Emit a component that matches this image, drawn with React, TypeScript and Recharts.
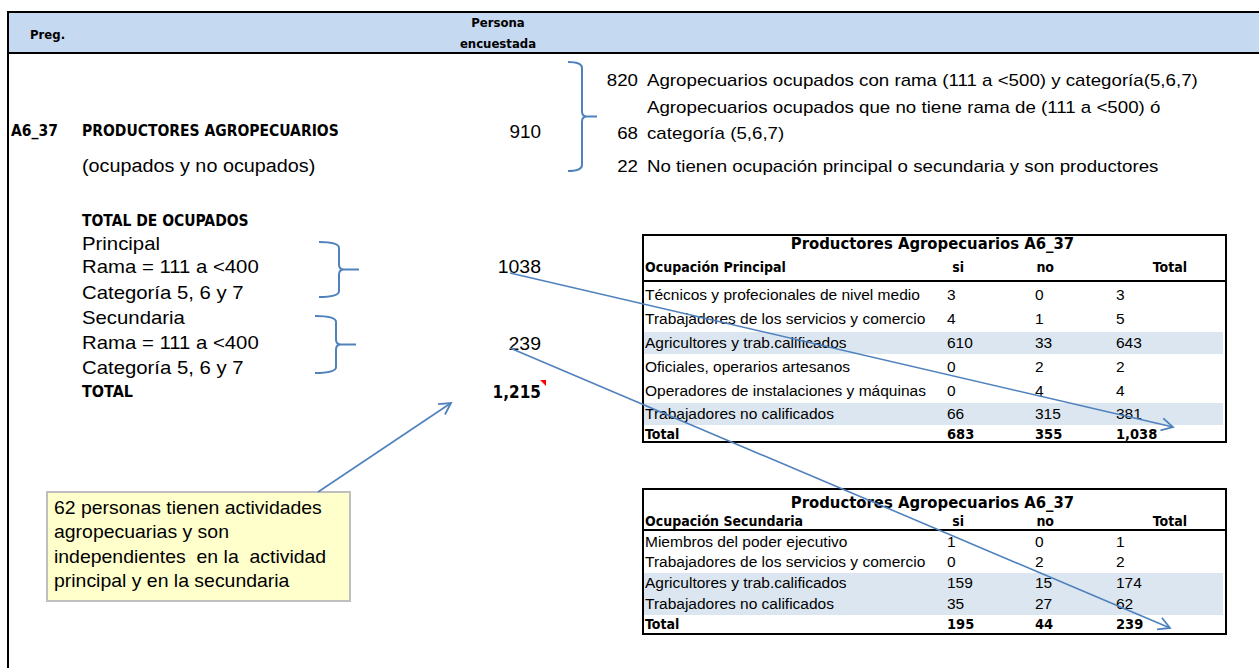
import React from "react"
import { ComposedChart, XAxis, YAxis, ReferenceLine } from "recharts"

const W = 1259
const H = 668

const encuestados = 910
const productorCounts = [820, 68, 22]
const productorNotes = [
  "Agropecuarios ocupados con rama (111 a <500) y categoría(5,6,7)",
  "categoría (5,6,7)",
  "No tienen ocupación principal o secundaria y son productores",
]
const productorNoteExtra = "Agropecuarios ocupados que no tiene rama de (111 a <500) ó"

const ocupadosLabels = [
  "Principal",
  "Rama = 111 a <400",
  "Categoría 5, 6 y 7",
  "Secundaria",
  "Rama = 111 a <400",
  "Categoría 5, 6 y 7",
]
const ocupadosTotals = [1038, 239, 1215]

const tableCols = ["si", "no", "Total"]

const principalLabels = [
  "Técnicos y profecionales de nivel medio",
  "Trabajadores de los servicios y comercio",
  "Agricultores y trab.calificados",
  "Oficiales, operarios artesanos",
  "Operadores de instalaciones y máquinas",
  "Trabajadores no calificados",
]
const principalSi = [3, 4, 610, 0, 0, 66]
const principalNo = [0, 1, 33, 2, 4, 315]
const principalTotal = [3, 5, 643, 2, 4, 381]
const principalSums = [683, 355, 1038]

const secundariaLabels = [
  "Miembros del poder ejecutivo",
  "Trabajadores de los servicios y comercio",
  "Agricultores y trab.calificados",
  "Trabajadores no calificados",
]
const secundariaSi = [1, 0, 159, 35]
const secundariaNo = [0, 2, 15, 27]
const secundariaTotal = [1, 2, 174, 62]
const secundariaSums = [195, 44, 239]

const noteLines = [
  "62 personas tienen actividades",
  "agropecuarias y son",
  "independientes  en la  actividad",
  "principal y en la secundaria",
]

const BLUE = "#4F81BD"
const BODY = '"Liberation Sans", Arial, sans-serif'
const BOLD = '"Liberation Sans Narrow", "DejaVu Sans Condensed", "Liberation Sans", Arial, sans-serif'
const fmt = (v: number) => v.toLocaleString("en-US")

type TxtProps = {
  x: number
  y: number
  size?: number
  bold?: boolean
  stretch?: number
  anchor?: "start" | "middle" | "end"
  children: React.ReactNode
}

// text placed by its vertical middle; stretch widens the glyphs like the excel screenshot
const Txt = ({ x, y, size = 17, bold, stretch = 1, anchor = "start", children }: TxtProps) => {
  const tx = anchor === "end" ? "-100%" : anchor === "middle" ? "-50%" : "0"
  const origin = anchor === "end" ? "right center" : anchor === "middle" ? "center center" : "left center"
  return (
    <div
      style={{
        position: "absolute",
        left: x,
        top: y,
        transform: `translate(${tx}, -50%) scaleX(${stretch})`,
        transformOrigin: origin,
        fontSize: size,
        fontWeight: bold ? 700 : 400,
        fontFamily: bold ? BOLD : BODY,
        whiteSpace: "pre",
        lineHeight: 1,
        color: "#000",
      }}
    >
      {children}
    </div>
  )
}

const arrowShape = (p: any) => {
  const { x1, y1, x2, y2 } = p
  const a = Math.atan2(y2 - y1, x2 - x1)
  const len = 13
  const spread = 0.5
  const ax = x2 - len * Math.cos(a - spread)
  const ay = y2 - len * Math.sin(a - spread)
  const bx = x2 - len * Math.cos(a + spread)
  const by = y2 - len * Math.sin(a + spread)
  return (
    <g>
      <line x1={x1} y1={y1} x2={x2} y2={y2} stroke={BLUE} strokeWidth={1.6} />
      <polyline points={`${ax},${ay} ${x2},${y2} ${bx},${by}`} fill="none" stroke={BLUE} strokeWidth={1.8} />
    </g>
  )
}

const braceShape = (w: number, tip: number) => (p: any) => {
  const { x1, y1, y2 } = p
  const x = x1
  const top = Math.min(y1, y2)
  const bottom = Math.max(y1, y2)
  const mid = (top + bottom) / 2
  const d = [
    `M${x - w},${top} Q${x},${top} ${x},${top + 6}`,
    `L${x},${mid - 5} Q${x},${mid} ${x + 5},${mid} L${x + tip},${mid}`,
    `M${x + 5},${mid} Q${x},${mid} ${x},${mid + 5}`,
    `L${x},${bottom - 6} Q${x},${bottom} ${x - w},${bottom}`,
  ].join(" ")
  return <path d={d} fill="none" stroke={BLUE} strokeWidth={2} />
}

type TableProps = {
  top: number
  bottom: number
  titleY: number
  title: string
  head: string
  headY: number
  lineY: number
  labels: string[]
  si: number[]
  no: number[]
  total: number[]
  sums: number[]
  rowY: number[]
  sumY: number
  shaded: number[]
  rowH: number
}

const Table = (t: TableProps) => {
  const left = 642
  const right = 1227
  const valX = [947, 1035, 1116]
  const headX = [964, 1054, 1187]
  return (
    <>
      {t.shaded.map((i) => (
        <div
          key={"s" + i}
          style={{
            position: "absolute",
            left: left + 2,
            top: t.rowY[i] - t.rowH / 2,
            width: right - left - 6,
            height: t.rowH,
            background: "#DCE6F1",
          }}
        />
      ))}
      <div
        style={{
          position: "absolute",
          left,
          top: t.top,
          width: right - left,
          height: t.bottom - t.top,
          border: "2px solid #000",
          boxSizing: "border-box",
        }}
      />
      <div style={{ position: "absolute", left, top: t.lineY - 1, width: right - left, height: 2, background: "#000" }} />
      <Txt x={(left + right) / 2 - 2} y={t.titleY} size={16.5} bold anchor="middle">
        {t.title}
      </Txt>
      <Txt x={645} y={t.headY} size={14} bold>
        {t.head}
      </Txt>
      {tableCols.map((c, j) => (
        <Txt key={c} x={headX[j]} y={t.headY} size={14} bold anchor="end">
          {c}
        </Txt>
      ))}
      {t.labels.map((l, i) => (
        <React.Fragment key={l + i}>
          <Txt x={645} y={t.rowY[i]} size={15.5}>
            {l}
          </Txt>
          {[t.si[i], t.no[i], t.total[i]].map((v, j) => (
            <Txt key={j} x={valX[j]} y={t.rowY[i]} size={15.5}>
              {fmt(v)}
            </Txt>
          ))}
        </React.Fragment>
      ))}
      <Txt x={645} y={t.sumY} size={14} bold>
        Total
      </Txt>
      {t.sums.map((v, j) => (
        <Txt key={"t" + j} x={valX[j]} y={t.sumY} size={14.5} bold>
          {fmt(v)}
        </Txt>
      ))}
    </>
  )
}

export default function App() {
  const noteY = [80, 133, 166]
  const labelY = [243, 266, 292, 317, 342, 367]
  return (
    <div
      style={{
        position: "absolute",
        left: 0,
        top: 0,
        width: W,
        height: H,
        background: "#fff",
        overflow: "hidden",
        fontFamily: BODY,
      }}
    >
      {/* header band */}
      <div
        style={{
          position: "absolute",
          left: 7,
          top: 11,
          width: W - 7,
          height: 43,
          background: "#C5D9F1",
          borderTop: "2px solid #000",
          borderBottom: "2px solid #000",
          boxSizing: "border-box",
        }}
      />
      <div style={{ position: "absolute", left: 7, top: 11, width: 2, height: H - 11, background: "#000" }} />
      <Txt x={30} y={34} size={13} bold>
        Preg.
      </Txt>
      <Txt x={498} y={22} size={13} bold anchor="middle">
        Persona
      </Txt>
      <Txt x={498} y={43} size={13} bold anchor="middle">
        encuestada
      </Txt>

      {/* productores */}
      <Txt x={11} y={132} size={15.5} bold>
        A6_37
      </Txt>
      <Txt x={82} y={132} size={15.5} bold>
        PRODUCTORES AGROPECUARIOS
      </Txt>
      <Txt x={541} y={132} size={18} stretch={1.05} anchor="end">
        {encuestados}
      </Txt>
      <Txt x={82} y={166} size={18} stretch={1.1}>
        (ocupados y no ocupados)
      </Txt>
      {productorCounts.map((c, i) => (
        <Txt key={"c" + i} x={638} y={noteY[i]} size={17} stretch={1.1} anchor="end">
          {c}
        </Txt>
      ))}
      {productorNotes.map((n, i) => (
        <Txt key={"n" + i} x={647} y={noteY[i]} size={17} stretch={1.1}>
          {n}
        </Txt>
      ))}
      <Txt x={647} y={107} size={17} stretch={1.1}>
        {productorNoteExtra}
      </Txt>

      {/* ocupados */}
      <Txt x={82} y={222} size={15.5} bold>
        TOTAL DE OCUPADOS
      </Txt>
      {ocupadosLabels.map((l, i) => (
        <Txt key={"o" + i} x={82} y={labelY[i]} size={19} stretch={1.07}>
          {l}
        </Txt>
      ))}
      <Txt x={82} y={392} size={16} bold>
        TOTAL
      </Txt>
      <Txt x={541} y={267} size={18} stretch={1.08} anchor="end">
        {ocupadosTotals[0]}
      </Txt>
      <Txt x={541} y={344} size={18} stretch={1.08} anchor="end">
        {ocupadosTotals[1]}
      </Txt>
      <Txt x={541} y={392} size={17} bold anchor="end">
        {fmt(ocupadosTotals[2])}
      </Txt>
      <svg style={{ position: "absolute", left: 539, top: 380 }} width={8} height={8}>
        <polygon points="1,0 7,0 7,6" fill="#FF0000" />
      </svg>

      <Table
        top={234}
        bottom={443}
        titleY={244}
        title="Productores Agropecuarios A6_37"
        head="Ocupación Principal"
        headY={267}
        lineY={281}
        labels={principalLabels}
        si={principalSi}
        no={principalNo}
        total={principalTotal}
        sums={principalSums}
        rowY={[295, 319, 343, 367, 391, 414]}
        sumY={434}
        shaded={[2, 5]}
        rowH={22}
      />
      <Table
        top={488}
        bottom={635}
        titleY={503}
        title="Productores Agropecuarios A6_37"
        head="Ocupación Secundaria"
        headY={521}
        lineY={530}
        labels={secundariaLabels}
        si={secundariaSi}
        no={secundariaNo}
        total={secundariaTotal}
        sums={secundariaSums}
        rowY={[542, 562, 583, 604]}
        sumY={624}
        shaded={[2, 3]}
        rowH={21}
      />

      {/* note box */}
      <div
        style={{
          position: "absolute",
          left: 46,
          top: 491,
          width: 305,
          height: 111,
          background: "#FFFFCC",
          border: "2px solid #BFBFBF",
          boxSizing: "border-box",
        }}
      />
      {noteLines.map((l, i) => (
        <Txt key={"l" + i} x={54} y={508 + i * 24.3} size={18.5} stretch={1.05}>
          {l}
        </Txt>
      ))}

      {/* arrows & braces */}
      <div style={{ position: "absolute", left: 0, top: 0, pointerEvents: "none" }}>
        <ComposedChart width={W} height={H} margin={{ top: 0, right: 0, bottom: 0, left: 0 }} data={[]}>
          <XAxis type="number" dataKey="x" domain={[0, W]} hide allowDataOverflow />
          <YAxis type="number" dataKey="y" domain={[0, H]} reversed hide allowDataOverflow />
          <ReferenceLine segment={[{ x: 582, y: 62 }, { x: 582, y: 171 }]} shape={braceShape(14, 15)} ifOverflow="visible" />
          <ReferenceLine segment={[{ x: 339, y: 242 }, { x: 339, y: 297 }]} shape={braceShape(20, 20)} ifOverflow="visible" />
          <ReferenceLine segment={[{ x: 336, y: 316 }, { x: 336, y: 373 }]} shape={braceShape(21, 20)} ifOverflow="visible" />
          <ReferenceLine segment={[{ x: 510, y: 273 }, { x: 1173, y: 427 }]} shape={arrowShape} ifOverflow="visible" />
          <ReferenceLine segment={[{ x: 510, y: 348 }, { x: 1170, y: 628 }]} shape={arrowShape} ifOverflow="visible" />
          <ReferenceLine segment={[{ x: 318, y: 492 }, { x: 451, y: 403 }]} shape={arrowShape} ifOverflow="visible" />
        </ComposedChart>
      </div>
    </div>
  )
}
